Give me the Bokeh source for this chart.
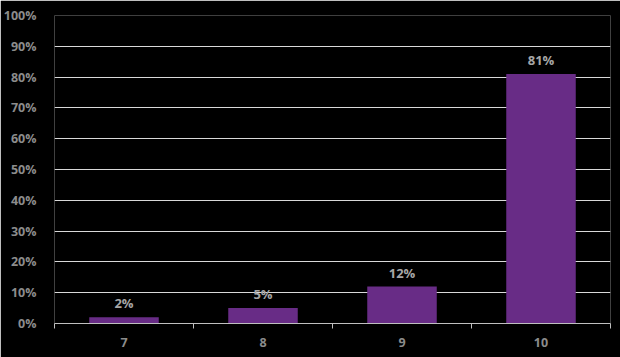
from bokeh.plotting import figure
from bokeh.models import ColumnDataSource, FixedTicker, PrintfTickFormatter, Range1d
from bokeh.core.properties import value
from bokeh.embed import file_html
from bokeh.resources import INLINE

categories = ["7", "8", "9", "10"]
values = [2, 5, 12, 81]
labels = ["2%", "5%", "12%", "81%"]
y_ticks = [0, 10, 20, 30, 40, 50, 60, 70, 80, 90, 100]

xs = [i + 0.5 for i in range(len(categories))]
src = ColumnDataSource(dict(x=xs, top=values, label=labels))

p = figure(width=620, height=357, output_backend="svg", toolbar_location=None,
           x_range=Range1d(0, len(categories)), y_range=Range1d(0, 100),
           min_border_left=54, min_border_right=10, min_border_top=15, min_border_bottom=34)
p.background_fill_color = "black"
p.border_fill_color = "black"
p.outline_line_color = None

p.vbar(x="x", top="top", width=0.5, bottom=0, source=src, fill_color="#682C86", line_color=None)
p.text(x="x", y="top", text="label", source=src, text_align="center", text_baseline="bottom",
       y_offset=-5, text_font=value("Open Sans"), text_font_style="bold",
       text_font_size="13px", text_color="#a6a6a6")

# y axis
p.yaxis.ticker = FixedTicker(ticks=y_ticks)
p.yaxis.formatter = PrintfTickFormatter(format="%d%%")
p.yaxis.axis_line_color = None
p.yaxis.major_tick_line_color = None
p.yaxis.minor_tick_line_color = None
p.yaxis.major_label_text_color = "#8c8c8c"
p.yaxis.major_label_text_font = "Open Sans"
p.yaxis.major_label_text_font_style = "bold"
p.yaxis.major_label_text_font_size = "12.5px"
p.yaxis.major_label_standoff = 12

p.ygrid.ticker = FixedTicker(ticks=y_ticks)
p.ygrid.grid_line_color = "#d9d9d9"
p.ygrid.grid_line_width = 1
p.xgrid.grid_line_color = None

# x axis
p.xaxis.ticker = FixedTicker(ticks=xs, minor_ticks=list(range(len(categories) + 1)))
p.xaxis.major_label_overrides = {x: c for x, c in zip(xs, categories)}
p.xaxis.axis_line_color = "#bfbfbf"
p.xaxis.major_tick_line_color = None
p.xaxis.minor_tick_line_color = "#bfbfbf"
p.xaxis.minor_tick_out = 5
p.xaxis.minor_tick_in = 0
p.xaxis.major_label_text_color = "#8c8c8c"
p.xaxis.major_label_text_font = "Open Sans"
p.xaxis.major_label_text_font_style = "bold"
p.xaxis.major_label_text_font_size = "12.5px"
p.xaxis.major_label_standoff = 8

open("out.html", "w").write(file_html(p, INLINE))
